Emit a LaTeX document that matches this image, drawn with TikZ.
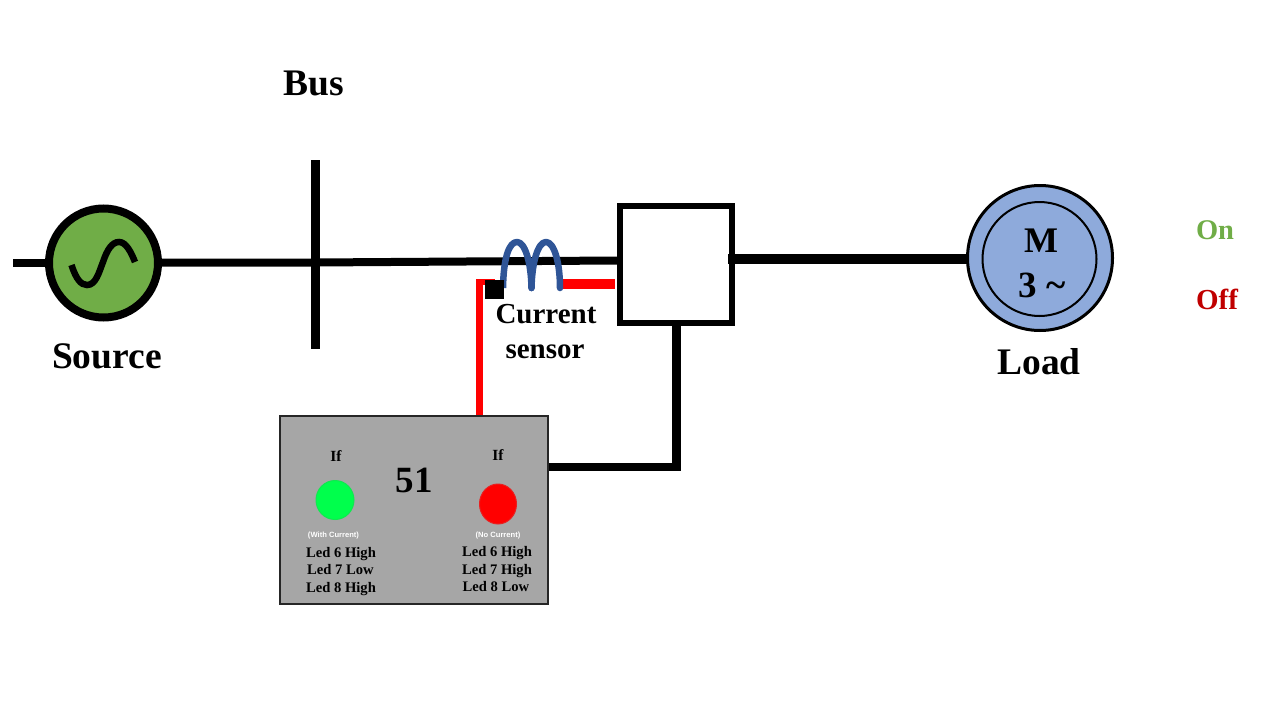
\documentclass[tikz,border=0pt]{standalone}
\usepackage{fontspec}
\usetikzlibrary{shapes.geometric}
\setmainfont{Liberation Serif}
\newfontfamily\smallsans{Liberation Sans}
\definecolor{srcgreen}{HTML}{70AD47}
\definecolor{offred}{HTML}{C00000}
\definecolor{motorblue}{HTML}{8EAADB}
\definecolor{coilblue}{HTML}{2F5597}
\definecolor{relaygray}{HTML}{A6A6A6}
\definecolor{ledgreen}{HTML}{00FF4C}
\definecolor{ledgreenb}{HTML}{10E850}
\definecolor{ledredb}{HTML}{E82020}
\definecolor{wirered}{HTML}{FF0000}
\newcommand{\fsz}[1]{\fontsize{#1}{#1}\selectfont\bfseries}
\tikzset{
  lab/.style={inner sep=0pt,outer sep=0pt,text=black,anchor=base},
  bigl/.style={lab,font=\fsz{37.5}},
  ledtxt/.style={lab,font=\fsz{14.6}},
  iftxt/.style={lab,font=\fsz{15.5}},
  note/.style={lab,text=white,font=\smallsans\fontsize{7.6}{8}\selectfont\bfseries},
  wire/.style={draw=black,line width=#1},
  redwire/.style={draw=wirered,line width=#1},
}
\begin{document}
\begin{tikzpicture}[x=1pt,y=-1pt]
\useasboundingbox (0,0) rectangle (1280,720);
% named wire ends
\coordinate (srcin) at (13,263);
\coordinate (srcL) at (50,263);
\coordinate (srcR) at (158,262.5);
\coordinate (busT) at (315,160);
\coordinate (busB) at (315,349);
\coordinate (busC) at (315,262.5);
\coordinate (brkL) at (617,260.5);
\coordinate (brkR) at (728,259);
\coordinate (motL) at (970,259);
\coordinate (brkB) at (676,322);
\coordinate (trip) at (676,467);
\coordinate (relR) at (547,467);
\coordinate (redA) at (479.5,415);
\coordinate (redB) at (479.5,282);
\coordinate (redC) at (495,282);
\coordinate (coilR) at (560,284);
\coordinate (brkM) at (615,284);
% wires
\draw[wire=7.5] (srcin) -- (srcL);
\draw[wire=8] (srcR) -- (busC) -- (brkL);
\draw[wire=9] (busT) -- (busB);
\draw[wire=9] (brkB) -- (trip);
\draw[wire=8,line cap=butt] (relR) -- (680.5,467);
\draw[redwire=6.5] (redA) -- (redB) -- (redC);
\draw[redwire=10] (coilR) -- (brkM);
% source
\node[circle,draw=black,fill=srcgreen,line width=8,minimum size=109,inner sep=0pt] (src) at (103.5,263) {};
\draw[black,line width=6.5] (71.5,265) .. controls (76,279) and (81,285) .. (87,285)
  .. controls (96,285) and (99,272) .. (103,262)
  .. controls (107,250) and (112,242) .. (119,242)
  .. controls (126,242) and (131,252) .. (135,262);
% breaker
\node[rectangle,draw=black,fill=white,line width=5.7,minimum width=112.3,minimum height=117.3,inner sep=0pt] (brk) at (676,264.5) {};
\draw[wire=10.5] (brkR) -- (motL);
% motor
\node[circle,draw=black,fill=motorblue,line width=3,minimum size=145,inner sep=0pt] (mot) at (1040,258) {};
\node[circle,draw=black,line width=2,minimum size=114,inner sep=0pt] (motin) at (1039.5,259) {};
\node[lab,font=\fsz{36}] (mm) at (1041,252) {M};
\node[lab,font=\fsz{37}] (m3) at (1042,297) {3 \char"007E};
% sensor
\draw[coilblue,line width=6.5,line join=round] (503,288)
  .. controls (503.5,258) and (509,242) .. (517,242)
  .. controls (525,242) and (531,262) .. (531.5,288)
  .. controls (532,262) and (538,242) .. (546,242)
  .. controls (554,242) and (560,262) .. (560,288);
\fill[coilblue] (531.5,288) circle (3.25) (560,288) circle (3.25);
\node[rectangle,fill=black,minimum size=19,inner sep=0pt] (ct) at (494.5,289.5) {};
% relay
\node[rectangle,draw=black!85,fill=relaygray,line width=2,minimum width=268,minimum height=188,inner sep=0pt] (rel) at (413.5,509.5) {};
\node[lab,font=\fsz{37}] (r51) at (414,492) {51};
\node[iftxt] (ifa) at (336,461.5) {If};
\node[iftxt] (ifb) at (498,460.5) {If};
\node[ellipse,draw=ledgreenb,fill=ledgreen,line width=1,minimum width=38,minimum height=39,inner sep=0pt] (ledg) at (335,500) {};
\node[ellipse,draw=ledredb,fill=wirered,line width=1,minimum width=37,minimum height=40,inner sep=0pt] (ledr) at (498,504) {};
\node[note] (wc) at (333.5,537) {(With Current)};
\node[note] (nc) at (498,537) {(No Current)};
\node[ledtxt] (a1) at (341,557) {Led 6 High};
\node[ledtxt] (a2) at (340.5,574.5) {Led 7 Low};
\node[ledtxt] (a3) at (341,592) {Led 8 High};
\node[ledtxt] (b1) at (497,556) {Led 6 High};
\node[ledtxt] (b2) at (497,574) {Led 7 High};
\node[ledtxt] (b3) at (496,591.5) {Led 8 Low};
% labels
\node[bigl] (lbus) at (313.5,95) {Bus};
\node[bigl] (lsrc) at (107,368.5) {Source};
\node[bigl] (lload) at (1039,374) {Load};
\node[lab,font=\fsz{29}] (lcs1) at (546,323) {Current};
\node[lab,font=\fsz{29}] (lcs2) at (545,358) {sensor};
\node[lab,font=\fsz{28.5},text=srcgreen] (lon) at (1215,239) {On};
\node[lab,font=\fsz{29},text=offred] (loff) at (1217,309) {Off};
\end{tikzpicture}
\end{document}
